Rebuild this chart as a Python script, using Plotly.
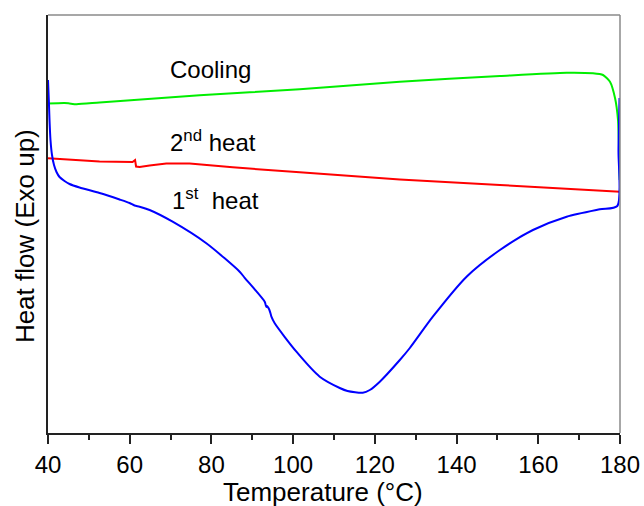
import plotly.graph_objects as go

# DSC traces: temperature (°C) and heat flow (arbitrary units, exo up)
first_heat_T = [40.00, 40.20, 40.37, 40.61, 40.98, 41.47, 42.08, 42.82, 44.04, 45.27,
                47.72, 52.62, 57.52, 59.97, 61.19, 62.42, 64.87, 70.50, 78.75, 86.91,
                88.14, 93.04, 93.28, 93.45, 93.60, 94.09, 94.43, 94.68, 95.49, 100.80,
                106.51, 111.41, 113.30, 117.04, 118.76, 121.21, 126.11, 128.56, 134.19,
                142.45, 150.60, 158.69, 166.94, 175.06, 179.34, 179.63, 179.88]
first_heat_HF = [3.53, 3.33, 3.13, 2.93, 2.78, 2.68, 2.61, 2.56, 2.52, 2.49,
                 2.455, 2.40, 2.335, 2.30, 2.275, 2.263, 2.23, 2.113, 1.897, 1.613,
                 1.552, 1.313, 1.28, 1.26, 1.27, 1.24, 1.20, 1.163, 1.097, 0.813,
                 0.563, 0.45, 0.42, 0.403, 0.43, 0.513, 0.73, 0.85, 1.163,
                 1.563, 1.83, 2.03, 2.163, 2.237, 2.27, 2.83, 3.35]

second_heat_T = [40.00, 52.62, 60.70, 61.07, 61.31, 61.56, 62.42, 64.87, 68.96, 74.66,
                 85.20, 101.61, 126.11, 150.60, 180.00]
second_heat_HF = [2.747, 2.715, 2.71, 2.725, 2.73, 2.665, 2.66, 2.675, 2.695, 2.695,
                  2.657, 2.607, 2.535, 2.48, 2.413]

cooling_T = [40.00, 44.04, 45.27, 46.98, 52.62, 77.11, 101.61, 126.11, 150.60, 166.94,
             173.39, 175.84, 177.55, 178.78, 179.51, 179.76, 179.93]
cooling_HF = [3.295, 3.30, 3.295, 3.288, 3.305, 3.378, 3.437, 3.513, 3.57, 3.603,
              3.597, 3.58, 3.513, 3.35, 3.13, 2.83, 2.53]

x_ticks = [40, 60, 80, 100, 120, 140, 160, 180]

FONT = "Liberation Sans, Arial, sans-serif"

fig = go.Figure()
fig.add_trace(go.Scatter(x=cooling_T, y=cooling_HF, mode="lines",
                         line=dict(color="#00ee00", width=2, shape="spline", smoothing=0.6),
                         name="Cooling"))
fig.add_trace(go.Scatter(x=second_heat_T, y=second_heat_HF, mode="lines",
                         line=dict(color="#ff0000", width=2), name="2nd heat"))
fig.add_trace(go.Scatter(x=first_heat_T, y=first_heat_HF, mode="lines",
                         line=dict(color="#0000ff", width=2, shape="spline", smoothing=0.7),
                         name="1st heat"))

labels = [
    ("Cooling", 79.8, 3.64),
    ("2<sup>nd</sup> heat", 80.4, 2.92),
    ("1<sup>st</sup>\u00a0 heat", 81.0, 2.34),
]
for text, tx, ty in labels:
    fig.add_annotation(x=tx, y=ty, text=text, showarrow=False,
                       font=dict(family=FONT, size=24, color="black"),
                       xanchor="center", yanchor="middle")

# axis titles
fig.add_annotation(xref="paper", yref="paper", x=0, y=0.471, xshift=-23,
                   text="Heat flow (Exo up)", textangle=-90, showarrow=False,
                   font=dict(family=FONT, size=26, color="black"),
                   xanchor="center", yanchor="middle")
fig.add_annotation(xref="paper", yref="paper", x=0.48, y=0, yshift=-59,
                   text="Temperature (°C)", showarrow=False,
                   font=dict(family=FONT, size=26, color="black"),
                   xanchor="center", yanchor="middle")

# top and right frame lines
fig.add_shape(type="line", xref="paper", yref="paper", x0=0, x1=1, y0=1, y1=1,
              line=dict(color="#8a8a8a", width=1.5))
fig.add_shape(type="line", xref="paper", yref="paper", x0=1, x1=1, y0=0, y1=1,
              line=dict(color="#8a8a8a", width=1.5))

fig.update_layout(
    width=644, height=506,
    margin=dict(l=48, r=24, t=15, b=73),
    paper_bgcolor="white", plot_bgcolor="white",
    showlegend=False,
    font=dict(family=FONT, color="black"),
    xaxis=dict(
        range=[40, 180], tickvals=x_ticks, ticktext=[str(v) for v in x_ticks],
        ticks="outside", ticklen=9, tickwidth=1.5, tickcolor="#222",
        showline=True, linecolor="#222", linewidth=1.5,
        showgrid=False, zeroline=False, automargin=False,
        tickfont=dict(family=FONT, size=24, color="black"),
        minor=dict(dtick=10, tick0=40, ticks="outside", ticklen=5, tickwidth=1.5,
                   tickcolor="#222", showgrid=False),
    ),
    yaxis=dict(
        range=[0, 4.18], showticklabels=False, ticks="",
        showline=True, linecolor="#222", linewidth=1.5,
        showgrid=False, zeroline=False, automargin=False,
    ),
)

fig.write_html("out.html")
